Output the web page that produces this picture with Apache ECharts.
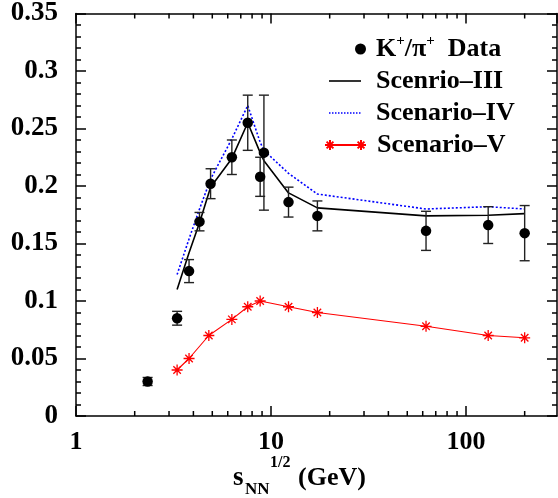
<!DOCTYPE html>
<html>
<head>
<meta charset="utf-8">
<script src="https://cdn.jsdelivr.net/npm/echarts@6/dist/echarts.min.js"></script>
<style>
html,body{margin:0;padding:0;background:#fff;}
#c{width:558px;height:498px;}
</style>
</head>
<body>
<div id="c"></div>
<script>
// ---- data ----
var dataX   = [2.33, 3.3, 3.8, 4.3, 4.9, 6.3, 7.6, 8.8, 9.2, 12.3, 17.3, 62.4, 130, 200];
var dataY   = [0.030, 0.085, 0.126, 0.169, 0.202, 0.225, 0.255, 0.208, 0.229, 0.186, 0.174, 0.161, 0.166, 0.159];
var dataErr = [0.0035, 0.006, 0.010, 0.008, 0.013, 0.015, 0.024, 0.017, 0.050, 0.013, 0.013, 0.017, 0.016, 0.024];

var modelX = [3.3, 3.8, 4.3, 4.9, 6.3, 7.6, 8.8, 9.2, 12.3, 17.3, 62.4, 130, 200];
var scen3  = [0.110, 0.142, 0.168, 0.199, 0.224, 0.255, 0.229, 0.222, 0.194, 0.181, 0.174, 0.1745, 0.176];
var scen4  = [0.123, 0.154, 0.180, 0.206, 0.241, 0.270, 0.238, 0.231, 0.211, 0.193, 0.180, 0.182, 0.180];

var scen5X = [3.3, 3.8, 4.8, 6.3, 7.6, 8.8, 12.3, 17.3, 62.4, 130, 200];
var scen5  = [0.040, 0.050, 0.070, 0.084, 0.095, 0.100, 0.095, 0.090, 0.078, 0.070, 0.068];

var xMajorTicks = [1, 10, 100];
var xMinorTicks = [2, 3, 4, 5, 6, 7, 8, 9, 20, 30, 40, 50, 60, 70, 80, 90, 200];

var nameData = 'K+/π+ Data';
var name3 = 'Scenrio–III';
var name4 = 'Scenario–IV';
var name5 = 'Scenario–V';

// ---- helpers ----
function zip(xs, ys) { return xs.map(function (x, i) { return [x, ys[i]]; }); }
var FONT = '"Liberation Serif", "Times New Roman", serif';
var Y_MIN = 0, Y_MAX = 0.35, X_MIN = 1, X_MAX = 293;

var asterisk = 'path://M5,0L5,10M0,5L10,5M1.6,1.6L8.4,8.4M1.6,8.4L8.4,1.6';
var asteriskLegend = 'path://M5,0L5,10M0,5L10,5M1.6,1.6L8.4,8.4M1.6,8.4L8.4,1.6' +
  'M36,0L36,10M31,5L41,5M32.6,1.6L39.4,8.4M32.6,8.4L39.4,1.6M5,5L36,5';
var solidLegend = 'path://M0,0L32,0L32,1.6L0,1.6Z';
var dotLegend = (function () {
  var p = 'path://';
  for (var i = 0; i < 31; i += 3) p += 'M' + i + ',0L' + (i + 1.5) + ',0L' + (i + 1.5) + ',1.5L' + i + ',1.5Z';
  return p;
})();

var richBase = {
  a: { fontFamily: FONT, fontWeight: 'bold', fontSize: 26, lineHeight: 30, color: '#000' },
  s: { fontFamily: FONT, fontWeight: 'bold', fontSize: 15, lineHeight: 12, verticalAlign: 'top', color: '#000' }
};

function legendCfg(name, left, top, w, h, pad, icon) {
  return {
    data: [{ name: name, icon: icon }],
    left: left, top: top, orient: 'vertical', padding: 0,
    itemWidth: w, itemHeight: h, selectedMode: false,
    textStyle: { fontFamily: FONT, fontWeight: 'bold', fontSize: 26, lineHeight: 30, color: '#000', padding: [0, 0, 0, pad], rich: richBase },
    formatter: function (n) {
      if (n === nameData) return '{a|K}{s|+}{a|/π}{s|+}{a|  Data}';
      return '{a|' + n + '}';
    }
  };
}

var chart = echarts.init(document.getElementById('c'));

var axisLineStyle = { color: '#000', width: 1.5 };

var option = {
  animation: false,
  backgroundColor: '#fff',
  grid: { left: 76, right: 1, top: 13, bottom: 82, containLabel: false },
  legend: [
    legendCfg(nameData, 355, 34, 11, 11, 5, 'circle'),
    legendCfg(name3, 329, 66, 32, 1.6, 10, solidLegend),
    legendCfg(name4, 329, 98, 31.5, 1.5, 10.5, dotLegend),
    legendCfg(name5, 324, 130, 41, 10, 6, asteriskLegend)
  ],
  xAxis: [{
    type: 'log', logBase: 10, min: X_MIN, max: X_MAX, position: 'bottom',
    axisLine: { show: true, onZero: false, lineStyle: axisLineStyle },
    axisTick: { show: true, inside: true, length: 10, lineStyle: { color: '#000', width: 1.5 } },
    splitLine: { show: false },
    axisLabel: {
      margin: 13, color: '#000', fontFamily: FONT, fontWeight: 'bold', fontSize: 26,
      showMaxLabel: false,
      formatter: function (v) {
        for (var i = 0; i < xMajorTicks.length; i++) {
          if (Math.abs(v - xMajorTicks[i]) < 1e-6 * xMajorTicks[i]) return String(xMajorTicks[i]);
        }
        return '';
      }
    }
  }, {
    type: 'log', logBase: 10, min: X_MIN, max: X_MAX, position: 'top',
    axisLine: { show: true, onZero: false, lineStyle: axisLineStyle },
    axisTick: { show: true, inside: true, length: 10, lineStyle: { color: '#000', width: 1.5 } },
    splitLine: { show: false },
    axisLabel: { show: false }
  }],
  yAxis: [{
    type: 'value', min: Y_MIN, max: Y_MAX, interval: 0.05, position: 'left',
    axisLine: { show: true, onZero: false, lineStyle: axisLineStyle },
    axisTick: { show: true, inside: true, length: 10, lineStyle: { color: '#000', width: 1.5 } },
    minorTick: { show: true, splitNumber: 5, length: 5, lineStyle: { color: '#000', width: 1.5 } },
    splitLine: { show: false },
    axisLabel: { margin: 18, color: '#000', fontFamily: FONT, fontWeight: 'bold', fontSize: 27 }
  }, {
    type: 'value', min: Y_MIN, max: Y_MAX, interval: 0.05, position: 'right',
    axisLine: { show: true, onZero: false, lineStyle: axisLineStyle },
    axisTick: { show: true, inside: true, length: 10, lineStyle: { color: '#000', width: 1.5 } },
    minorTick: { show: true, splitNumber: 5, length: 5, lineStyle: { color: '#000', width: 1.5 } },
    splitLine: { show: false },
    axisLabel: { show: false }
  }],
  graphic: [
    { type: 'text', left: 233, top: 465, style: { text: 's', font: 'bold 27px ' + FONT, fill: '#000' } },
    { type: 'text', left: 245, top: 481, style: { text: 'NN', font: 'bold 17px ' + FONT, fill: '#000' } },
    { type: 'text', left: 270, top: 455, style: { text: '1/2', font: 'bold 16px ' + FONT, fill: '#000' } },
    { type: 'text', left: 298, top: 465, style: { text: '(GeV)', font: 'bold 26px ' + FONT, fill: '#000' } }
  ],
  series: [
    {
      type: 'custom', name: 'xminor', silent: true, z: 10,
      xAxisIndex: 0, yAxisIndex: 0,
      data: xMinorTicks.map(function (v) { return [v, Y_MIN]; }),
      renderItem: function (params, api) {
        var v = api.value(0);
        var pb = api.coord([v, Y_MIN]);
        var pt = api.coord([v, Y_MAX]);
        var st = { stroke: '#000', lineWidth: 1.5 };
        return { type: 'group', children: [
          { type: 'line', shape: { x1: pb[0], y1: pb[1], x2: pb[0], y2: pb[1] - 5 }, style: st },
          { type: 'line', shape: { x1: pt[0], y1: pt[1], x2: pt[0], y2: pt[1] + 5 }, style: st }
        ] };
      }
    },
    {
      type: 'line', name: name3, data: zip(modelX, scen3), z: 3,
      showSymbol: false, symbol: 'none',
      lineStyle: { color: '#000', width: 1.6, type: 'solid' },
      itemStyle: { color: '#000' }
    },
    {
      type: 'line', name: name4, data: zip(modelX, scen4), z: 3,
      showSymbol: false, symbol: 'none',
      lineStyle: { color: '#0000ff', width: 1.6, type: [2, 2] },
      itemStyle: { color: '#0000ff' }
    },
    {
      type: 'line', name: name5, data: zip(scen5X, scen5), z: 3,
      symbol: asterisk, symbolSize: 11, showSymbol: true,
      lineStyle: { color: '#ff0000', width: 1.1 },
      itemStyle: { color: 'rgba(0,0,0,0)', borderColor: '#ff0000', borderWidth: 1.3 }
    },
    {
      type: 'custom', name: 'errors', silent: true, z: 4,
      data: dataX.map(function (x, i) { return [x, dataY[i] - dataErr[i], dataY[i] + dataErr[i]]; }),
      encode: { x: 0, y: [1, 2] },
      renderItem: function (params, api) {
        var x = api.value(0);
        var p1 = api.coord([x, api.value(1)]);
        var p2 = api.coord([x, api.value(2)]);
        var w = 5;
        var st = { stroke: '#222', lineWidth: 1.4 };
        return { type: 'group', children: [
          { type: 'line', shape: { x1: p1[0], y1: p1[1], x2: p2[0], y2: p2[1] }, style: st },
          { type: 'line', shape: { x1: p1[0] - w, y1: p1[1], x2: p1[0] + w, y2: p1[1] }, style: st },
          { type: 'line', shape: { x1: p2[0] - w, y1: p2[1], x2: p2[0] + w, y2: p2[1] }, style: st }
        ] };
      }
    },
    {
      type: 'scatter', name: nameData, data: zip(dataX, dataY), z: 5,
      symbol: 'circle', symbolSize: 10.5,
      itemStyle: { color: '#000', opacity: 1 }
    }
  ]
};
chart.setOption(option);
</script>
</body>
</html>
